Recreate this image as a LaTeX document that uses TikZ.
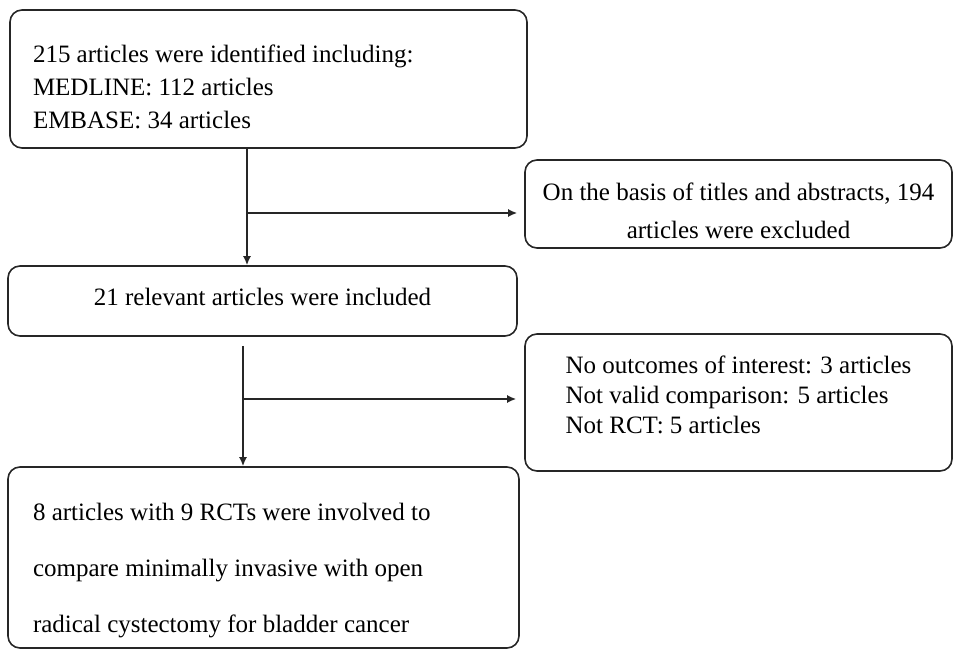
\documentclass[tikz,border=0pt]{standalone}
\usepackage{fontspec}
\setmainfont{Liberation Serif}
\usetikzlibrary{positioning,calc,arrows.meta}

\begin{document}
\begin{tikzpicture}
                [x=1pt,y=-1pt,>={Latex[length=9pt,width=8pt]},
                 box/.style={draw=black!85,line width=1.6pt,rounded corners=12pt,inner sep=0pt,font=\fontsize{25}{33}\selectfont},
                 arrow/.style={line width=1.6pt,black!85}]

                \useasboundingbox (0,0) rectangle (954,650);

                \pgfmathsetmacro{\firstSplit}{247}
                \pgfmathsetmacro{\secondSplit}{243}

                \node[box,align=flush left,text width=471pt,inner xsep=23pt,minimum height=138pt] (identified) at (268.5,79)
                    {\rule{0pt}{33pt}215 articles were identified including:\\MEDLINE: 112 articles\\EMBASE: 34 articles};
                \node[box,align=center,minimum width=427pt,minimum height=88pt,font=\fontsize{25}{38}\selectfont] (excluded) at (738.5,204)
                    {\rule{0pt}{31pt}On the basis of titles and abstracts, 194\\articles were excluded};
                \node[box,minimum width=509pt,minimum height=70pt] (relevant) at (262.5,301)
                    {\rule[-8pt]{0pt}{8pt}21 relevant articles were included};
                \node[box,align=flush left,minimum width=427pt,minimum height=137pt,font=\fontsize{25}{30}\selectfont] (removed) at (738.5,402.5)
                    {No outcomes of interest: 3 articles\\Not valid comparison: 5 articles\\Not RCT: 5 articles\rule[-16pt]{0pt}{16pt}};
                \node[box,align=flush left,text width=461pt,inner xsep=25pt,minimum height=181pt,font=\fontsize{25}{56}\selectfont] (included) at (263.5,557.5)
                    {\rule{0pt}{43pt}8 articles with 9 RCTs were involved to\\compare minimally invasive with open\\radical cystectomy for bladder cancer};

                \coordinate (firstSplit) at (\firstSplit,213);
                \draw[arrow,->] (firstSplit |- identified.south) -- (firstSplit |- relevant.north);
                \draw[arrow,->,shorten >=7pt] (firstSplit) -- (firstSplit -| excluded.west);

                \coordinate (secondSplit) at (\secondSplit,399);
                \draw[arrow,->] ([yshift=-9pt]secondSplit |- relevant.south) -- (secondSplit |- included.north);
                \draw[arrow,->,shorten >=8pt] (secondSplit) -- (secondSplit -| removed.west);

            \end{tikzpicture}
\end{document}
